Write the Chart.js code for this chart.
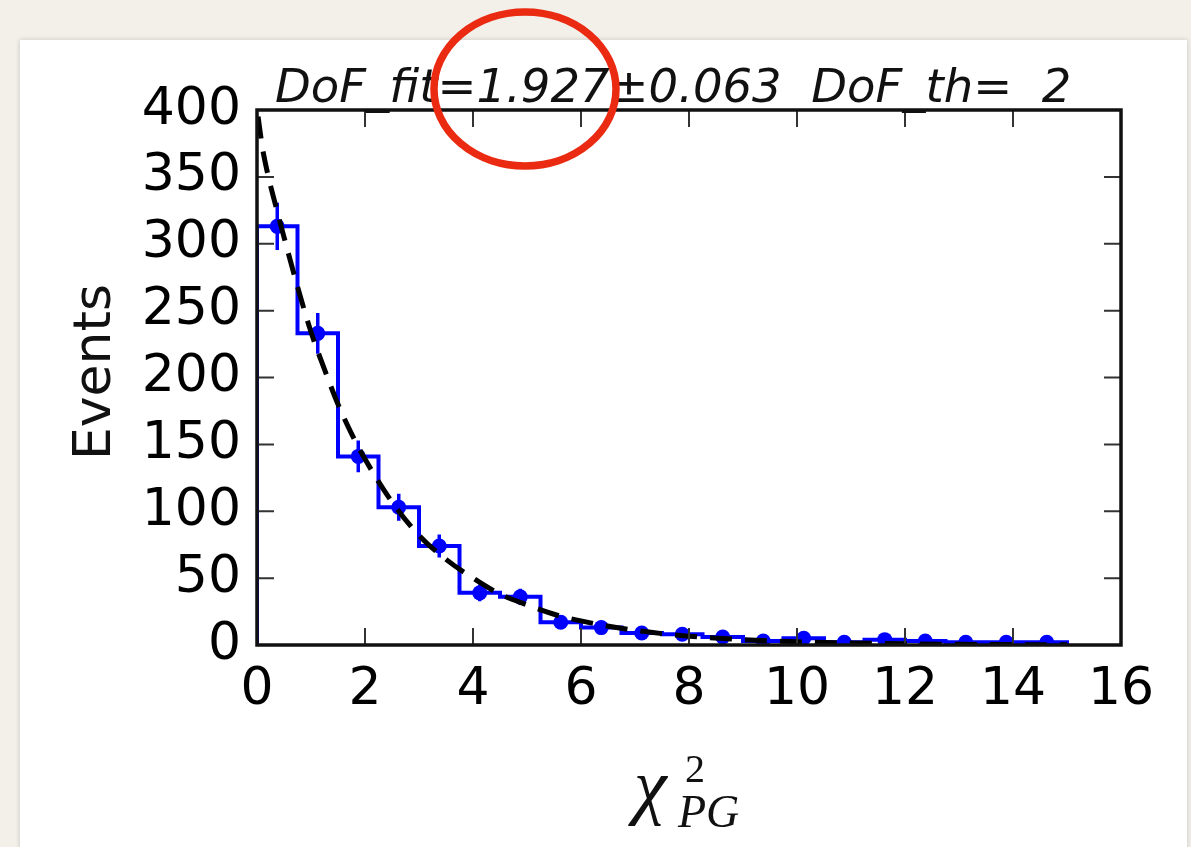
<!DOCTYPE html>
<html>
<head>
<meta charset="utf-8">
<title>DoF fit</title>
<script src="https://cdn.jsdelivr.net/npm/chart.js@4.4.1/dist/chart.umd.min.js"></script>
<style>
  html, body { margin: 0; padding: 0; background: #f3f0ea; }
  canvas { display: block; }
</style>
</head>
<body>
<canvas id="dofChart" width="1191" height="847"></canvas>
<script>
// chi2_PG histogram: bin edges, counts per bin and their errors
const binEdges = [0, 0.75, 1.5, 2.25, 3, 3.75, 4.5, 5.25, 6, 6.75, 7.5,
  8.25, 9, 9.75, 10.5, 11.25, 12, 12.75, 13.5, 14.25, 15];
const counts = [313, 233, 141, 103, 74, 39, 36, 17, 13, 9, 8, 6, 3, 5, 2, 4, 3, 2, 2, 2];
const countErrors = [17.7, 15.3, 11.9, 10.1, 8.6, 6.2, 6.0, 4.1, 3.6, 3.0,
  2.8, 2.4, 1.7, 2.2, 1.4, 2.0, 1.7, 1.4, 1.4, 1.4];

// fitted chi2 curve, sampled along x
const fitX = [0.02, 0.1, 0.2, 0.35, 0.5, 0.75, 1, 1.25, 1.5, 1.75, 2, 2.5, 3, 3.5,
  4, 4.5, 5, 5.5, 6, 7, 8, 9, 10, 11, 12, 13, 14, 15];
const fitY = [395, 372, 352, 328, 305, 268, 234, 206, 180, 158, 139, 107, 82, 64,
  50, 38, 30, 23, 18, 11, 6.6, 4, 2.4, 1.5, 0.9, 0.5, 0.3, 0.2];

const xTicks = [0, 2, 4, 6, 8, 10, 12, 14, 16];
const yTicks = [0, 50, 100, 150, 200, 250, 300, 350, 400];
const fitText = "DoF_fit=1.927\u00b10.063  DoF_th=  2";

const BLUE = "#0000ff";
const SANS = "'DejaVu Sans', sans-serif";
const SERIF = "'Liberation Serif', 'DejaVu Serif', serif";

// bin centres
const centres = counts.map((c, i) => (binEdges[i] + binEdges[i + 1]) / 2);

// outline of the step histogram
const stepPoints = [{ x: binEdges[0], y: 0 }];
counts.forEach((c, i) => {
  stepPoints.push({ x: binEdges[i], y: c });
  stepPoints.push({ x: binEdges[i + 1], y: c });
});
stepPoints.push({ x: binEdges[binEdges.length - 1], y: 0 });

// vertical error bars, separated by gaps
const errorPoints = [];
counts.forEach((c, i) => {
  errorPoints.push({ x: centres[i], y: c - countErrors[i] });
  errorPoints.push({ x: centres[i], y: c + countErrors[i] });
  errorPoints.push({ x: centres[i], y: null });
});

const frame = {
  id: "frame",
  beforeDraw(chart) {
    const ctx = chart.ctx;
    ctx.save();
    ctx.fillStyle = "#f3f0ea";
    ctx.fillRect(0, 0, chart.width, chart.height);
    ctx.shadowColor = "rgba(0,0,0,0.18)";
    ctx.shadowBlur = 5;
    ctx.fillStyle = "#ffffff";
    ctx.fillRect(20, 40, 1167, 830);
    ctx.restore();
  },
  afterDatasetsDraw(chart) {
    const { ctx, chartArea: a, scales: { x, y } } = chart;
    ctx.save();
    // inward ticks on all four sides
    ctx.strokeStyle = "#333";
    ctx.lineWidth = 2;
    ctx.beginPath();
    xTicks.forEach(v => {
      const px = x.getPixelForValue(v);
      ctx.moveTo(px, a.bottom); ctx.lineTo(px, a.bottom - 17);
      ctx.moveTo(px, a.top); ctx.lineTo(px, a.top + 17);
    });
    yTicks.forEach(v => {
      const py = y.getPixelForValue(v);
      ctx.moveTo(a.left, py); ctx.lineTo(a.left + 17, py);
      ctx.moveTo(a.right, py); ctx.lineTo(a.right - 17, py);
    });
    ctx.stroke();
    ctx.strokeStyle = "#111";
    ctx.lineWidth = 3.5;
    ctx.strokeRect(a.left, a.top, a.right - a.left, a.bottom - a.top);
    ctx.restore();
  },
  afterDraw(chart) {
    const ctx = chart.ctx;
    ctx.save();
    ctx.fillStyle = "#111";

    // fit result above the plot
    ctx.font = "italic 46.5px " + SANS;
    ctx.textAlign = "left";
    ctx.textBaseline = "alphabetic";
    ctx.fillText(fitText, 275, 102);

    // y axis title
    ctx.save();
    ctx.translate(110, 372);
    ctx.rotate(-Math.PI / 2);
    ctx.font = "52px " + SANS;
    ctx.textAlign = "center";
    ctx.fillText("Events", 0, 0);
    ctx.restore();

    // x axis title: chi^2 with PG subscript
    ctx.textAlign = "left";
    ctx.font = "italic 74px " + SERIF;
    ctx.fillText("\u03c7", 634, 810);
    ctx.font = "40px " + SERIF;
    ctx.fillText("2", 685, 782);
    ctx.font = "italic 46px " + SERIF;
    ctx.fillText("PG", 678, 827);

    // red marker ring around the fitted value
    ctx.strokeStyle = "#ea2b12";
    ctx.lineWidth = 7.5;
    ctx.beginPath();
    ctx.ellipse(525, 89, 91, 77, 0, 0, Math.PI * 2);
    ctx.stroke();
    ctx.restore();
  }
};

new Chart(document.getElementById("dofChart"), {
  type: "line",
  data: {
    datasets: [
      {
        label: "fit",
        data: fitX.map((v, i) => ({ x: v, y: fitY[i] })),
        borderColor: "#000",
        borderWidth: 5,
        borderDash: [22, 13],
        pointRadius: 0,
        cubicInterpolationMode: "monotone",
        order: 0
      },
      {
        label: "data",
        type: "scatter",
        data: centres.map((v, i) => ({ x: v, y: counts[i] })),
        backgroundColor: BLUE,
        borderWidth: 0,
        pointRadius: 7.5,
        clip: 0,
        order: 1
      },
      {
        label: "errors",
        data: errorPoints,
        borderColor: BLUE,
        borderWidth: 3.5,
        pointRadius: 0,
        spanGaps: false,
        order: 2
      },
      {
        label: "histogram",
        data: stepPoints,
        borderColor: BLUE,
        borderWidth: 4,
        pointRadius: 0,
        order: 3
      }
    ]
  },
  options: {
    responsive: false,
    animation: false,
    devicePixelRatio: 1,
    layout: { padding: { left: 0, top: 110, right: 70, bottom: 0 } },
    plugins: {
      legend: { display: false },
      tooltip: { enabled: false }
    },
    scales: {
      x: {
        type: "linear",
        min: 0,
        max: 16,
        afterBuildTicks: s => { s.ticks = xTicks.map(v => ({ value: v })); },
        afterFit: s => { s.height = 202; },
        grid: { display: false },
        border: { display: false },
        ticks: { color: "#000", padding: 6, maxRotation: 0, font: { family: SANS, size: 52 } }
      },
      y: {
        type: "linear",
        min: 0,
        max: 400,
        afterBuildTicks: s => { s.ticks = yTicks.map(v => ({ value: v })); },
        afterFit: s => { s.width = 257; },
        grid: { display: false },
        border: { display: false },
        ticks: { color: "#000", padding: 8, font: { family: SANS, size: 52 } }
      }
    }
  },
  plugins: [frame]
});
</script>
</body>
</html>
